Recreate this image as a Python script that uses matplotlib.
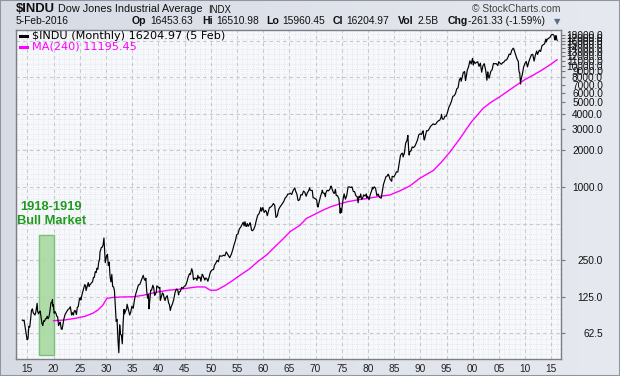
import numpy as np
import matplotlib
matplotlib.use("Agg")
import matplotlib.pyplot as plt
from matplotlib.patches import Rectangle
from matplotlib.lines import Line2D

# ---------------- data ----------------
close_months = [
 "1914-01","1914-03","1914-05","1914-07","1914-12",
 "1915-02","1915-04","1915-06","1915-08","1915-10","1915-12",
 "1916-02","1916-04","1916-06","1916-08","1916-10","1916-11","1916-12",
 "1917-02","1917-04","1917-06","1917-08","1917-10","1917-12",
 "1918-02","1918-04","1918-06","1918-08","1918-10","1918-12",
 "1919-02","1919-04","1919-06","1919-07","1919-09","1919-10","1919-11","1919-12",
 "1920-02","1920-04","1920-06","1920-08","1920-10","1920-12",
 "1921-02","1921-04","1921-06","1921-08","1921-10","1921-12",
 "1922-03","1922-06","1922-09","1922-12",
 "1923-03","1923-06","1923-08","1923-10","1923-12",
 "1924-02","1924-05","1924-07","1924-09","1924-12",
 "1925-02","1925-03","1925-06","1925-09","1925-12",
 "1926-02","1926-03","1926-06","1926-08","1926-10","1926-12",
 "1927-03","1927-06","1927-08","1927-10","1927-12",
 "1928-02","1928-04","1928-06","1928-08","1928-10","1928-11","1928-12",
 "1929-02","1929-04","1929-06","1929-08","1929-10","1929-11","1929-12",
 "1930-02","1930-04","1930-06","1930-08","1930-10","1930-12",
 "1931-02","1931-04","1931-06","1931-08","1931-10","1931-12",
 "1932-02","1932-04","1932-06","1932-07","1932-08","1932-10","1932-12",
 "1933-02","1933-04","1933-06","1933-07","1933-09","1933-12",
 "1934-01","1934-03","1934-05","1934-07","1934-09","1934-12",
 "1935-02","1935-03","1935-06","1935-09","1935-12",
 "1936-03","1936-06","1936-09","1936-12",
 "1937-02","1937-04","1937-06","1937-08","1937-10","1937-12",
 "1938-02","1938-03","1938-05","1938-07","1938-09","1938-12",
 "1939-02","1939-04","1939-06","1939-08","1939-09","1939-12",
 "1940-02","1940-04","1940-05","1940-08","1940-10","1940-12",
 "1941-02","1941-04","1941-06","1941-09","1941-12",
 "1942-02","1942-04","1942-06","1942-09","1942-12",
 "1943-03","1943-06","1943-09","1943-11","1943-12",
 "1944-03","1944-06","1944-09","1944-12",
 "1945-03","1945-06","1945-09","1945-12",
 "1946-02","1946-05","1946-07","1946-09","1946-12",
 "1947-03","1947-05","1947-07","1947-09","1947-12",
 "1948-02","1948-05","1948-06","1948-09","1948-11","1948-12",
 "1949-03","1949-06","1949-09","1949-12",
 "1950-03","1950-06","1950-07","1950-09","1950-12",
 "1951-03","1951-06","1951-09","1951-12",
 "1952-03","1952-06","1952-09","1952-12",
 "1953-03","1953-06","1953-08","1953-12",
 "1954-03","1954-06","1954-09","1954-12",
 "1955-03","1955-06","1955-09","1955-12",
 "1956-03","1956-05","1956-07","1956-09","1956-11","1956-12",
 "1957-03","1957-06","1957-07","1957-10","1957-12",
 "1958-03","1958-06","1958-09","1958-12",
 "1959-03","1959-06","1959-07","1959-09","1959-12",
 "1960-03","1960-06","1960-08","1960-10","1960-12",
 "1961-03","1961-06","1961-09","1961-11","1961-12",
 "1962-03","1962-05","1962-06","1962-09","1962-12",
 "1963-03","1963-06","1963-09","1963-12",
 "1964-03","1964-06","1964-09","1964-12",
 "1965-03","1965-06","1965-09","1965-12",
 "1966-01","1966-03","1966-06","1966-08","1966-09","1966-12",
 "1967-03","1967-06","1967-09","1967-12",
 "1968-03","1968-06","1968-09","1968-11","1968-12",
 "1969-03","1969-05","1969-07","1969-09","1969-12",
 "1970-03","1970-05","1970-06","1970-09","1970-12",
 "1971-03","1971-04","1971-06","1971-09","1971-11","1971-12",
 "1972-03","1972-06","1972-09","1972-12",
 "1973-01","1973-03","1973-06","1973-08","1973-10","1973-12",
 "1974-03","1974-06","1974-08","1974-09","1974-10","1974-12",
 "1975-03","1975-06","1975-09","1975-12",
 "1976-03","1976-06","1976-09","1976-12",
 "1977-03","1977-06","1977-09","1977-12",
 "1978-02","1978-04","1978-06","1978-08","1978-10","1978-12",
 "1979-03","1979-06","1979-09","1979-10","1979-12",
 "1980-03","1980-06","1980-09","1980-11","1980-12",
 "1981-03","1981-06","1981-09","1981-12",
 "1982-03","1982-07","1982-09","1982-12",
 "1983-03","1983-06","1983-09","1983-11","1983-12",
 "1984-03","1984-07","1984-08","1984-12",
 "1985-03","1985-06","1985-09","1985-12",
 "1986-03","1986-06","1986-08","1986-09","1986-12",
 "1987-03","1987-06","1987-08","1987-10","1987-11","1987-12",
 "1988-03","1988-06","1988-09","1988-12",
 "1989-03","1989-06","1989-09","1989-12",
 "1990-03","1990-06","1990-07","1990-09","1990-10","1990-12",
 "1991-03","1991-06","1991-09","1991-12",
 "1992-03","1992-06","1992-09","1992-12",
 "1993-03","1993-06","1993-09","1993-12",
 "1994-01","1994-03","1994-06","1994-09","1994-12",
 "1995-03","1995-06","1995-09","1995-12",
 "1996-03","1996-06","1996-09","1996-12",
 "1997-03","1997-06","1997-09","1997-10","1997-12",
 "1998-03","1998-06","1998-08","1998-09","1998-12",
 "1999-03","1999-06","1999-09","1999-12",
 "2000-02","2000-03","2000-06","2000-09","2000-12",
 "2001-03","2001-06","2001-09","2001-12",
 "2002-03","2002-06","2002-07","2002-09","2002-11","2002-12",
 "2003-02","2003-06","2003-09","2003-12",
 "2004-03","2004-06","2004-10","2004-12",
 "2005-03","2005-06","2005-09","2005-12",
 "2006-03","2006-06","2006-09","2006-12",
 "2007-03","2007-06","2007-09","2007-10","2007-12",
 "2008-03","2008-06","2008-09","2008-10","2008-11","2008-12",
 "2009-01","2009-02","2009-03","2009-06","2009-09","2009-12",
 "2010-03","2010-06","2010-09","2010-12",
 "2011-03","2011-06","2011-09","2011-12",
 "2012-03","2012-05","2012-09","2012-12",
 "2013-03","2013-06","2013-09","2013-12",
 "2014-01","2014-03","2014-06","2014-09","2014-12",
 "2015-02","2015-05","2015-07","2015-08","2015-09","2015-11","2015-12",
 "2016-01","2016-02",
]
close_values = [
 80,79,80,72,55,
 56,71,70,81,96,99,
 92,90,88,93,105,110,95,
 90,93,95,84,75,72,
 79,78,82,82,86,82,
 85,93,107,112,111,118,104,107,
 91,94,91,86,85,72,
 75,77,68,67,73,81,
 89,93,97,99,
 103,88,92,88,95,
 96,89,102,103,120,
 122,117,131,143,157,
 153,140,153,163,151,157,
 161,166,180,180,200,
 197,214,210,240,253,293,300,
 317,319,333,380,273,238,248,
 271,279,226,240,183,165,
 190,151,150,140,105,78,
 81,56,43,54,73,61,60,
 51,77,98,90,94,100,
 108,101,94,88,92,104,
 101,100,118,132,144,
 156,157,168,180,
 187,175,170,177,138,121,
 130,99,116,141,141,155,
 147,128,131,137,153,150,
 147,149,116,126,134,131,
 121,116,123,127,111,
 107,96,103,109,119,
 136,144,141,129,136,
 138,149,146,152,
 154,165,181,193,
 190,212,201,172,177,
 177,170,187,177,181,
 167,191,189,178,171,177,
 177,167,182,200,
 206,209,209,226,235,
 248,242,271,269,
 270,274,271,292,
 280,268,261,281,
 304,334,361,404,
 410,451,466,488,
 512,478,518,475,473,500,
 475,503,508,441,436,
 447,478,532,584,
 602,644,675,632,679,
 617,641,626,580,616,
 676,684,701,722,731,
 706,613,561,579,652,
 683,707,733,763,
 813,832,875,874,
 889,868,931,969,
 984,924,870,788,772,786,
 865,860,927,905,
 840,898,935,985,944,
 936,938,815,813,800,
 785,700,683,760,839,
 904,941,891,887,831,890,
 940,929,953,1020,
 999,951,891,888,957,851,
 847,802,679,608,666,616,
 768,879,794,852,
 1000,1003,990,1004,
 919,916,847,831,
 742,837,819,877,793,805,
 862,842,878,816,839,
 785,868,932,993,964,
 1004,977,850,875,
 822,809,896,1047,
 1130,1222,1233,1276,1259,
 1165,1115,1224,1212,
 1267,1336,1329,1547,
 1819,1893,1898,1768,1896,
 2305,2419,2663,1994,1834,1939,
 1989,2142,2113,2169,
 2294,2440,2693,2753,
 2707,2881,2905,2453,2442,2634,
 2914,2907,3017,3169,
 3236,3319,3272,3301,
 3436,3516,3555,3754,
 3978,3636,3625,3843,3834,
 4158,4556,4789,5117,
 5588,5655,5882,6448,
 6584,7673,7945,7442,7908,
 8800,8952,7539,7843,9181,
 9786,10971,10337,11497,
 10128,10922,10448,10651,10788,
 9879,10502,8848,10021,
 10404,9243,8737,7592,8896,8342,
 7891,8985,9275,10454,
 10358,10435,10027,10783,
 10504,10275,10569,10718,
 11109,11150,11679,12463,
 12354,13409,13896,13930,13265,
 12263,11350,10851,9325,8829,8776,
 8001,7063,7609,8447,9712,10428,
 10857,9774,10788,11578,
 12320,12414,10913,12218,
 13212,12393,13437,13104,
 14579,14910,15130,16577,
 15699,16458,16827,17043,17823,
 18133,18011,17690,16528,16285,17720,17425,
 16466,16205,
]

ma_years = [1920.0, 1922.0, 1924.4, 1926.0, 1927.5, 1928.5, 1929.4, 1930.2, 1931.4,
            1933.0, 1935.2, 1937.1, 1939.7, 1942.0, 1944.8, 1947.3, 1948.9, 1949.9,
            1951.1, 1952.5, 1953.7, 1955.5, 1957.5, 1959.0, 1960.7, 1962.3, 1963.8,
            1965.2, 1967.0, 1968.3, 1970.0, 1971.5, 1973.0, 1974.7, 1976.0, 1977.8,
            1979.5, 1981.0, 1982.5, 1984.2, 1986.1, 1988.0, 1989.9, 1992.5, 1994.0,
            1995.7, 1997.6, 1998.9, 1999.8, 2002.0, 2003.5, 2005.2, 2007.0, 2008.4,
            2010.0, 2011.6, 2013.0, 2014.5, 2016.1]
ma_values = [79, 80, 83, 86, 91, 97, 106, 121, 123,
             124, 124.5, 128, 136, 141, 145, 150, 150, 141,
             141, 152, 164, 186, 213, 243, 276, 323, 373,
             430, 483, 552, 600, 647, 690, 727, 755, 780,
             800, 820, 840, 860, 930, 1020, 1180, 1370, 1600,
             1955, 2520, 3050, 3460, 4460, 5000, 5560, 6300, 6940,
             7700, 8390, 9100, 10000, 11195]

x_tick_years = list(range(1915, 2016, 5))
x_tick_labels = ["%02d" % (y % 100) for y in x_tick_years]
y_tick_values = [62.5, 125, 250, 1000, 2000, 3000, 4000, 5000, 6000, 7000, 8000, 9000,
                 10000, 11000, 12000, 13000, 14000, 15000, 16000, 17000, 18000]
y_tick_labels = ["%.1f" % v for v in y_tick_values]
y_grid_values = [62.5, 125, 250, 500, 1000, 2000, 4000, 8000, 16000]

bull_span = [1917.23, 1920.0]
bull_range = [41.4, 402]
bull_text = ["1918-1919", "Bull Market"]

header_title = r"\$INDU"
header_name = "Dow Jones Industrial Average"
header_exch = "INDX"
header_date = "5-Feb-2016"
quote_labels = ["Op", "Hi", "Lo", "Cl", "Vol", "Chg"]
quote_values = ["16453.63", "16510.98", "15960.45", "16204.97", "2.5B", "-261.33 (-1.59%)"]
legend_texts = [r"\$INDU (Monthly) 16204.97 (5 Feb)", "MA(240) 11195.45"]

# ---------------- helpers ----------------
W, H = 620, 376
def fx(x):
    return x / W
def fy(y):
    return 1 - y / H

def to_decimal_year(s):
    y, m = s.split("-")
    return int(y) + (int(m) - 0.5) / 12.0

close_x = np.array([to_decimal_year(s) for s in close_months])
close_y = np.array(close_values, dtype=float)

# ---------------- figure ----------------
fig = plt.figure(figsize=(6.2, 3.76), dpi=100)
fig.patch.set_facecolor("#dde1e9")

bg = fig.add_axes([0, 0, 1, 1], zorder=-10)
grad = np.linspace(0, 1, 256).reshape(1, -1)
bg.imshow(grad, aspect="auto", cmap=matplotlib.colors.LinearSegmentedColormap.from_list(
    "g", ["#d7dbe4", "#e6e9ef"]), extent=[0, 1, 0, 1])
bg.set_axis_off()
fig.add_artist(Rectangle((0, 0), 1, 1, transform=fig.transFigure, fill=False,
                         edgecolor="#8f96a3", lw=1.5))

ax = fig.add_axes([fx(16), fy(359), (561 - 16) / W, (359 - 30) / H])
ax.set_facecolor("#f7f8fb")
ax.set_yscale("log")
ax.set_xlim(1912.84, 2016.85)
ax.set_ylim(38.2, 19700)

# fine dotted background grid
for yr in range(1913, 2017):
    ax.axvline(yr, color="#e2e3e8", lw=0.6, ls=(0, (1, 1.5)), zorder=0)
for f in np.arange(0.0, 1.0, 5.0 / 329):
    ax.plot([0, 1], [f, f], transform=ax.transAxes, color="#e2e3e8", lw=0.6,
            ls=(0, (1, 1.5)), zorder=0)
# major dashed grid
for yr in x_tick_years:
    ax.axvline(yr, color="#c6c8ce", lw=0.8, ls=(0, (3, 3)), zorder=1)
for v in y_grid_values:
    ax.axhline(v, color="#c6c8ce", lw=0.8, ls=(0, (3, 3)), zorder=1)

# bull market box
ax.add_patch(Rectangle((bull_span[0], bull_range[0]), bull_span[1] - bull_span[0],
                       bull_range[1] - bull_range[0], facecolor="#a7d9a0",
                       edgecolor="#72bd72", lw=1.0, alpha=0.9, zorder=2))

# series
ax.plot(ma_years, ma_values, color="#ff00ff", lw=1.0, zorder=3)
ax.plot(close_x, close_y, color="black", lw=0.85, zorder=4)

# annotation text
ax.text(1919.6, 1000 * 2 ** ((187 - 206.5) / 36.5), bull_text[0], color="#1f9a1f",
        fontsize=9.3, fontweight="bold", family="Liberation Sans", ha="center", va="center", zorder=5)
ax.text(1919.6, 1000 * 2 ** ((187 - 221.0) / 36.5), bull_text[1], color="#1f9a1f",
        fontsize=9.3, fontweight="bold", family="Liberation Sans", ha="center", va="center", zorder=5)

# axes styling
ax.set_xticks(x_tick_years)
ax.set_xticklabels(x_tick_labels)
ax.tick_params(axis="x", length=0, pad=3.5, labelsize=7.3, labelcolor="#222222")
ax.yaxis.tick_right()
ax.set_yticks(y_tick_values)
ax.set_yticklabels(y_tick_labels)
ax.yaxis.set_minor_locator(matplotlib.ticker.NullLocator())
ax.tick_params(axis="y", which="major", length=3, color="#777777", direction="out",
               pad=27.2, labelsize=7.3, labelcolor="#111111")
for lab in ax.get_yticklabels():
    lab.set_horizontalalignment("right")
for lab in ax.get_xticklabels() + ax.get_yticklabels():
    lab.set_family("Liberation Sans")
for sp in ax.spines.values():
    sp.set_color("#7d7f86")
    sp.set_linewidth(1.0)

# legend inside plot
fig.add_artist(Line2D([fx(20), fx(27)], [fy(35.7), fy(35.7)], color="black", lw=2.2))
fig.add_artist(Line2D([fx(20), fx(27)], [fy(46.7), fy(46.7)], color="#ff00ff", lw=2.2))
fig.text(fx(31.5), fy(35.7), legend_texts[0], fontsize=8.1, family="DejaVu Sans",
         color="black", va="center", ha="left")
fig.text(fx(31.5), fy(46.7), legend_texts[1], fontsize=8.1, family="DejaVu Sans",
         color="#ff00ff", va="center", ha="left")

# header
fig.text(fx(15.5), fy(9), header_title, fontsize=9.4, fontweight="bold",
         family="Liberation Sans", va="center", ha="left", color="#111111")
fig.text(fx(58), fy(9.5), header_name, fontsize=7.8, family="Liberation Sans",
         va="center", ha="left", color="#111111")
fig.text(fx(208), fy(10), header_exch, fontsize=6.9, family="Liberation Sans",
         va="center", ha="left", color="#111111")
fig.text(fx(561), fy(9.5), "\u00a9 StockCharts.com", fontsize=7.4, family="Liberation Sans",
         va="center", ha="right", color="#444444")
fig.text(fx(16), fy(21.5), header_date, fontsize=7.4, family="Liberation Sans",
         va="center", ha="left", color="#111111")
label_x = [132, 202, 266, 333, 398, 448]
value_x = [150, 216, 282, 346, 417, 468]
for lx, vx, lt, vt in zip(label_x, value_x, quote_labels, quote_values):
    fig.text(fx(lx), fy(21.5), lt, fontsize=7.6, fontweight="bold", family="Liberation Sans",
             va="center", ha="left", color="#111111")
    fig.text(fx(vx), fy(21.5), vt, fontsize=7.4, family="Liberation Sans",
             va="center", ha="left", color="#111111")
fig.text(fx(557), fy(21.5), "\u25bc", fontsize=6.0, family="DejaVu Sans",
         va="center", ha="center", color="#5a6a8a")

fig.savefig("out.png", dpi=100, facecolor=fig.get_facecolor())
